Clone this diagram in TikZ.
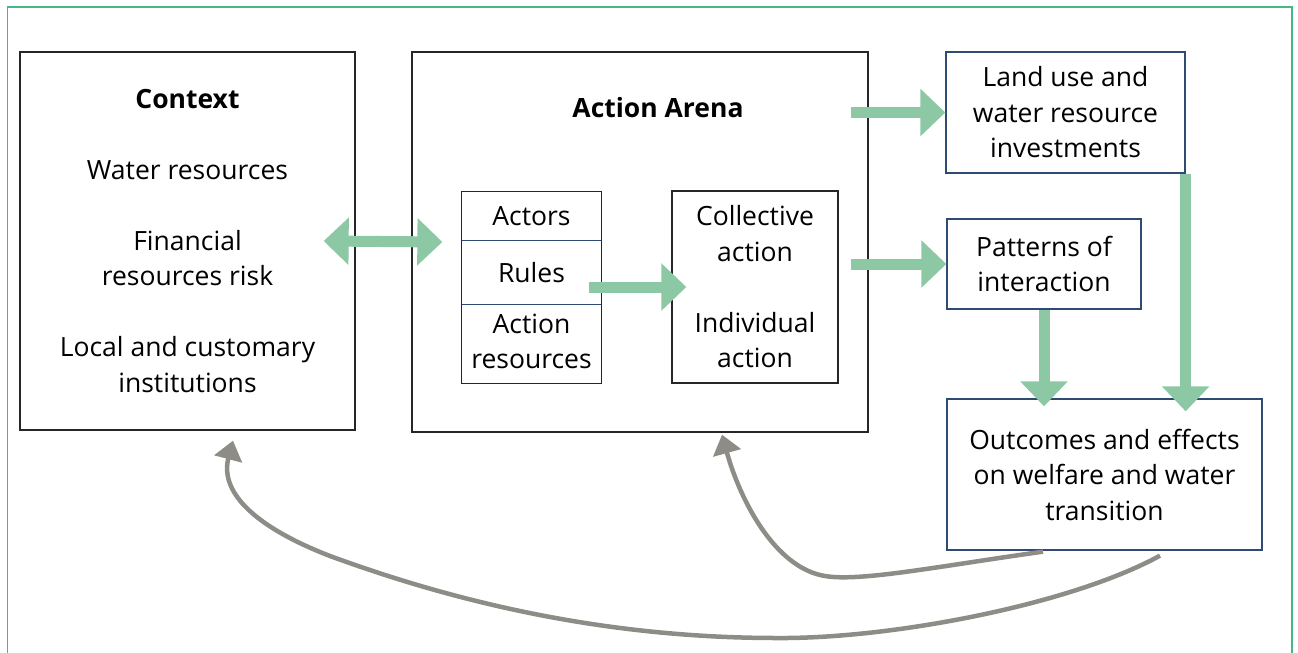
\documentclass[tikz,border=0pt]{standalone}
\usepackage{fontspec}
\setmainfont{Open Sans}
\usetikzlibrary{arrows.meta}
\definecolor{framegreen}{HTML}{45B886}
\definecolor{arrowgreen}{HTML}{8CC8A4}
\definecolor{loopgrey}{HTML}{8E8C87}
\definecolor{boxblue}{HTML}{2F4B73}
\begin{document}
\begin{tikzpicture}[x=1pt, y=-1pt,
  every node/.style={font=\fontsize{26.5}{35.5}\selectfont, align=center, inner sep=0pt},
  outerbox/.style={draw=black!85, line width=1.3pt},
  bluebox/.style={draw=boxblue, line width=1.3pt},
  greenarrow/.style={draw=arrowgreen, line width=11pt, -{Triangle[width=46pt,length=25pt]}},
  greendouble/.style={draw=arrowgreen, line width=11pt, {Triangle[width=46pt,length=25pt]}-{Triangle[width=46pt,length=25pt]}},
  loopback/.style={draw=loopgrey, line width=4.5pt, -{Triangle[width=28pt,length=19pt]}}]
\useasboundingbox (0,0) rectangle (1298,653);
\draw[framegreen, line width=1.8pt] (7.5,660) -- (7.5,7) -- (1292,7) -- (1292,660);
\node[outerbox, minimum width=335pt, minimum height=378pt] (ctx) at (187.5,241)
  {\textbf{Context}\\[35.5pt]Water resources\\[35.5pt]Financial\\resources risk\\[35.5pt]Local and customary\\institutions};
\node[outerbox, minimum width=456pt, minimum height=380pt] (arena) at (640,242) {};
\node (arenatitle) at (658,108) {\textbf{Action Arena}};
\node[minimum width=139pt, minimum height=49pt] (actors) at (531.5,216.5) {Actors};
\node[minimum width=139pt, minimum height=63pt] (rules) at (531.5,272.5) {Rules};
\node[minimum width=139pt, minimum height=79pt] (actres) at (531.5,341.5) {Action\\resources};
\draw[black!85, line width=1.3pt] (actors.north west) rectangle ([yshift=-2pt]actres.south east);
\draw[boxblue, line width=1pt] (rules.north west) -- (rules.north east) (rules.south west) -- (rules.south east);
\node[outerbox, minimum width=166pt, minimum height=192pt] (coll) at (755,287)
  {Collective\\action\\[35.5pt]Individual\\action};
\node[bluebox, minimum width=239pt, minimum height=121pt] (land) at (1065.5,112.5)
  {Land use and\\water resource\\investments};
\node[bluebox, minimum width=194pt, minimum height=90pt] (pat) at (1044,264)
  {Patterns of\\interaction};
\node[bluebox, minimum width=315pt, minimum height=151pt] (out) at (1104.5,474.5)
  {Outcomes and effects\\on welfare and water\\transition};
\draw[greendouble] ([xshift=-32pt]ctx.east) -- ([xshift=31pt]arena.west);
\draw[greenarrow] ([xshift=-12pt,yshift=-14.5pt]rules.east) -- ([xshift=15pt,yshift=-14.5pt]rules.east -| coll.west);
\draw[greenarrow] ([xshift=-18pt]arena.east |- land.west) -- (land.west);
\draw[greenarrow] ([xshift=-18pt]arena.east |- pat.west) -- (pat.west);
\draw[greenarrow] (pat.south) -- ([yshift=-8pt]pat.south |- out.north);
\draw[greenarrow] (land.south east) -- ([yshift=-13pt]land.south east |- out.north);
\draw[loopback] ([xshift=-61.5pt,yshift=-1pt]out.south) .. controls (940,566) and (860,582) .. (825,576)
  .. controls (775,568) and (740,500) .. ([xshift=82pt,yshift=-2pt]arena.south);
\draw[loopback] ([xshift=55.5pt,yshift=-5pt]out.south) .. controls (1070,605) and (890,639) .. (777,638)
  .. controls (600,638) and (450,600) .. (330,556)
  .. controls (250,525) and (220,490) .. ([xshift=45.5pt,yshift=-10pt]ctx.south);
\end{tikzpicture}
\end{document}
